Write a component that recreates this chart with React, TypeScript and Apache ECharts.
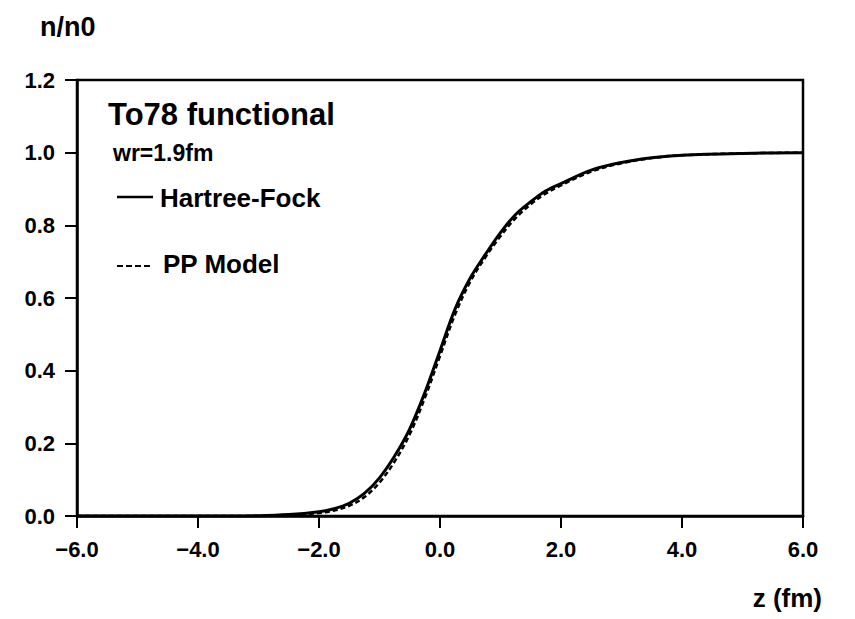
import React, { useEffect, useRef } from "react";
import * as echarts from "echarts";

const zValues = [-6, -4, -3, -2.5, -2, -1.75, -1.5, -1.25, -1, -0.75, -0.5, -0.25, 0, 0.25, 0.5, 0.75, 1, 1.25, 1.5, 1.75, 2, 2.5, 3, 3.5, 4, 5, 6];
const hartreeFock = [0, 0, 0.001, 0.004, 0.012, 0.02, 0.035, 0.062, 0.105, 0.165, 0.24, 0.34, 0.455, 0.57, 0.655, 0.72, 0.78, 0.83, 0.865, 0.895, 0.915, 0.952, 0.973, 0.986, 0.993, 0.998, 1.0];
const ppModel = [0, 0, 0.0, 0.002, 0.008, 0.015, 0.028, 0.052, 0.092, 0.15, 0.225, 0.325, 0.44, 0.555, 0.645, 0.712, 0.77, 0.82, 0.858, 0.888, 0.91, 0.948, 0.971, 0.985, 0.993, 0.998, 1.0];
const xTicks = { min: -6, max: 6, interval: 2 };
const yTicks = { min: 0, max: 1.2, interval: 0.2 };
const titleText = "To78 functional";
const subText = "wr=1.9fm";
const seriesNames = ["Hartree-Fock", "PP Model"];

const FONT = "'Liberation Sans', Arial, Helvetica, sans-serif";

const fmt = (v: number) => {
  const s = Math.abs(v).toFixed(1);
  return v < -1e-9 ? "\u2212" + s : s;
};

export default function App() {
  const ref = useRef<HTMLDivElement>(null);
  useEffect(() => {
    if (!ref.current) return;
    const chart = echarts.init(ref.current, null, { renderer: "svg" });
    const hf = zValues.map((z, i) => [z, hartreeFock[i]]);
    const pp = zValues.map((z, i) => [z, ppModel[i]]);
    const axisCommon = {
      axisLine: { show: true, onZero: false, lineStyle: { color: "#000", width: 2.5 } },
      axisTick: { show: true, inside: false, length: 12, lineStyle: { color: "#000", width: 2 } },
      splitLine: { show: false },
      axisLabel: {
        color: "#000",
        fontFamily: FONT,
        fontWeight: "bold",
        fontSize: 22,
        formatter: fmt,
      },
    };
    chart.setOption({
      animation: false,
      backgroundColor: "#fff",
      grid: {
        left: 77,
        right: 52,
        top: 80,
        bottom: 103,
        show: true,
        borderColor: "#000",
        borderWidth: 2.5,
        outerBoundsMode: "none",
      },
      xAxis: {
        type: "value",
        ...xTicks,
        ...axisCommon,
        axisLabel: { ...axisCommon.axisLabel, margin: 22 },
      },
      yAxis: {
        type: "value",
        ...yTicks,
        ...axisCommon,
        axisLabel: { ...axisCommon.axisLabel, margin: 22 },
      },
      series: [
        {
          name: seriesNames[0],
          type: "line",
          data: hf,
          smooth: 0.35,
          showSymbol: false,
          lineStyle: { color: "#000", width: 3, type: "solid" },
        },
        {
          name: seriesNames[1],
          type: "line",
          data: pp,
          smooth: 0.35,
          showSymbol: false,
          lineStyle: { color: "#000", width: 2.5, type: [5, 3] },
        },
      ],
      graphic: [
        {
          type: "text",
          left: 40,
          top: 13,
          style: { text: "n/n0", font: `bold 27px ${FONT}`, fill: "#000" },
        },
        {
          type: "text",
          x: 822,
          y: 598,
          style: {
            text: "z (fm)",
            font: `bold 26px ${FONT}`,
            fill: "#000",
            align: "right",
            verticalAlign: "middle",
          },
        },
        {
          type: "text",
          x: 108,
          y: 114,
          style: { text: titleText, font: `bold 31px ${FONT}`, fill: "#000", verticalAlign: "middle" },
        },
        {
          type: "text",
          x: 113,
          y: 153,
          style: { text: subText, font: `bold 23px ${FONT}`, fill: "#000", verticalAlign: "middle" },
        },
        {
          type: "line",
          shape: { x1: 117, y1: 197, x2: 153, y2: 197 },
          style: { stroke: "#000", lineWidth: 2.5 },
        },
        {
          type: "text",
          x: 160,
          y: 198,
          style: { text: seriesNames[0], font: `bold 26px ${FONT}`, fill: "#000", verticalAlign: "middle" },
        },
        {
          type: "line",
          shape: { x1: 117, y1: 266, x2: 152, y2: 266 },
          style: { stroke: "#000", lineWidth: 2, lineDash: [6, 3] },
        },
        {
          type: "text",
          x: 163,
          y: 264,
          style: { text: seriesNames[1], font: `bold 26px ${FONT}`, fill: "#000", verticalAlign: "middle" },
        },
      ],
    });
    return () => chart.dispose();
  }, []);
  return (
    <div
      ref={ref}
      style={{ position: "fixed", left: 0, top: 0, width: 855, height: 619, background: "#fff" }}
    />
  );
}
